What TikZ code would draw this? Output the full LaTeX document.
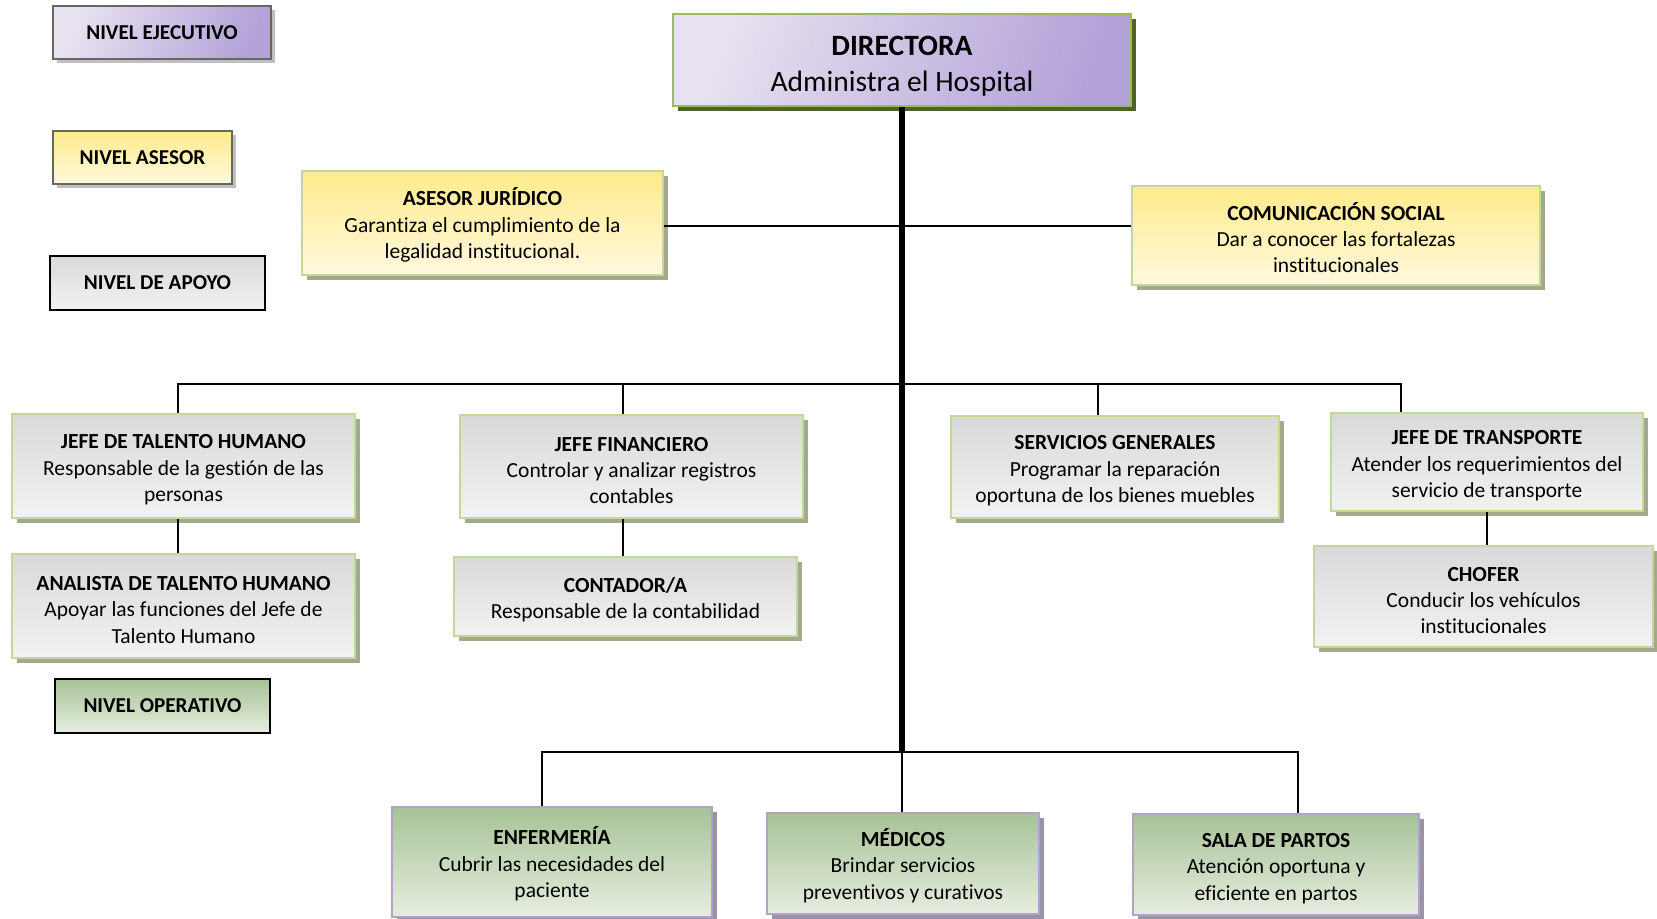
\documentclass[tikz,border=0pt]{standalone}
\usepackage{fontspec}
\setmainfont{Carlito}[Ligatures=NoCommon]
\usetikzlibrary{shadows}

\definecolor{lavLight}{HTML}{E8E2F0}
\definecolor{lavDark}{HTML}{B3A2D8}
\definecolor{yelTop}{HTML}{FFEB8C}
\definecolor{yelBot}{HTML}{FFF8DE}
\definecolor{grayTop}{HTML}{D9D9D9}
\definecolor{grayBot}{HTML}{F2F2F2}
\definecolor{grnTop}{HTML}{A7C296}
\definecolor{grnBot}{HTML}{E6EDE0}
\definecolor{edgeGreen}{HTML}{C3D69B}
\definecolor{edgeDark}{HTML}{9BBB59}
\definecolor{edgePurple}{HTML}{B3A2C7}
\definecolor{shOlive}{HTML}{A4A98E}
\definecolor{shDark}{HTML}{4F6228}
\definecolor{shPurple}{HTML}{9A92AA}
\definecolor{shGray}{HTML}{BFBFBF}

\newcommand{\tit}[1]{\rule{0pt}{11pt}\textbf{#1}}

\tikzset{
	unit/.style={draw=edgeGreen, line width=1pt, inner sep=0pt, align=center,
		font=\fontsize{10.75}{13.2}\selectfont},
	olive shadow/.style={drop shadow={shadow xshift=2.5pt, shadow yshift=-2.5pt, fill=shOlive, opacity=1}},
	ejecutivo/.style={unit, draw=edgeDark, left color=lavLight, right color=lavDark, shading angle=70,
		drop shadow={shadow xshift=2.5pt, shadow yshift=-2.5pt, fill=shDark, opacity=1}},
	asesor/.style={unit, olive shadow, top color=yelTop, bottom color=yelBot},
	apoyo/.style={unit, olive shadow, top color=grayTop, bottom color=grayBot},
	operativo/.style={unit, draw=edgePurple, top color=grnTop, bottom color=grnBot,
		drop shadow={shadow xshift=2.5pt, shadow yshift=-2.5pt, fill=shPurple, opacity=1}},
	nivel/.style={line width=1.2pt, inner sep=0pt, font=\fontsize{10.6}{13}\selectfont\bfseries},
	wire/.style={line width=0.75pt},
	trunk/.style={line width=2.6pt}
}

\begin{document}
\begin{tikzpicture}[x=0.5pt, y=-0.5pt]
	\useasboundingbox (0,0) rectangle (1657,918);
	% Legend:
	\node[nivel, draw=black!60, left color=lavLight, right color=lavDark, shading angle=70,
		drop shadow={shadow xshift=2pt, shadow yshift=-2pt, fill=shGray, opacity=1},
		minimum width=109pt, minimum height=26.5pt] (nvEjec) at (162,32.5) {NIVEL EJECUTIVO};
	\node[nivel, draw=black!60, top color=yelTop, bottom color=yelBot,
		drop shadow={shadow xshift=2pt, shadow yshift=-2pt, fill=shGray, opacity=1},
		minimum width=89.5pt, minimum height=26.5pt] (nvAsesor) at (142.5,157.5) {NIVEL ASESOR};
	\node[nivel, draw=black, top color=grayTop, bottom color=grayBot,
		minimum width=107.5pt, minimum height=27pt] (nvApoyo) at (157.5,283) {NIVEL DE APOYO};
	\node[nivel, draw=black, top color=grnTop, bottom color=grnBot,
		minimum width=107.5pt, minimum height=27pt] (nvOper) at (162.5,706) {NIVEL OPERATIVO};

	% Units:
	\node[ejecutivo, minimum width=229pt, minimum height=46pt, font=\fontsize{14.75}{18}\selectfont]
		(directora) at (902,60) {\rule{0pt}{16pt}\textbf{DIRECTORA}\\Administra el Hospital};
	\node[asesor, minimum width=180.5pt, minimum height=52pt] (juridico) at (482.5,223)
		{\tit{ASESOR JURÍDICO}\\Garantiza el cumplimiento de la\\legalidad institucional.};
	\node[asesor, minimum width=204pt, minimum height=49.5pt] (comunicacion) at (1336,235.5)
		{\tit{COMUNICACIÓN SOCIAL}\\Dar a conocer las fortalezas\\institucionales};
	\node[apoyo, minimum width=171.5pt, minimum height=52pt] (talento) at (183.5,466)
		{\tit{JEFE DE TALENTO HUMANO}\\Responsable de la gestión de las\\personas};
	\node[apoyo, minimum width=171.5pt, minimum height=52pt] (analista) at (183.5,606)
		{\tit{ANALISTA DE TALENTO HUMANO}\\Apoyar las funciones del Jefe de\\Talento Humano};
	\node[apoyo, minimum width=171.5pt, minimum height=51.5pt] (financiero) at (631.5,466.5)
		{\tit{JEFE FINANCIERO}\\Controlar y analizar registros\\contables};
	\node[apoyo, minimum width=171.5pt, minimum height=39.5pt] (contador) at (625.5,596.5)
		{\tit{CONTADOR/A}\\Responsable de la contabilidad};
	\node[apoyo, minimum width=164pt, minimum height=51pt] (servicios) at (1115,467)
		{\tit{SERVICIOS GENERALES}\\Programar la reparación\\oportuna de los bienes muebles};
	\node[apoyo, minimum width=156pt, minimum height=49pt] (transporte) at (1487,462)
		{\tit{JEFE DE TRANSPORTE}\\Atender los requerimientos del\\servicio de transporte};
	\node[apoyo, minimum width=169.5pt, minimum height=50.5pt] (chofer) at (1483.5,596.5)
		{\tit{CHOFER}\\Conducir los vehículos\\institucionales};
	\node[operativo, minimum width=160pt, minimum height=55pt] (enfermeria) at (552,862)
		{\tit{ENFERMERÍA}\\Cubrir las necesidades del\\paciente};
	\node[operativo, minimum width=136pt, minimum height=50.5pt] (medicos) at (903,863.5)
		{\tit{MÉDICOS}\\Brindar servicios\\preventivos y curativos};
	\node[operativo, minimum width=143pt, minimum height=50.5pt] (partos) at (1276,864.5)
		{\tit{SALA DE PARTOS}\\Atención oportuna y\\eficiente en partos};

	% Wires:
	\coordinate (hAsesor) at (902,226);
	\coordinate (busApoyo) at (902,384);
	\coordinate (apoyoStart) at (178,384);
	\coordinate (apoyoEnd) at (1401,384);
	\coordinate (dropFin) at (623,384);
	\coordinate (dropServ) at (1098,384);
	\coordinate (busOper) at (902,752);
	\coordinate (operStart) at (542,752);
	\coordinate (operEnd) at (1298,752);
	\draw[trunk] (directora.south) -- (busOper);
	\draw[wire] (juridico.east |- hAsesor) -- (hAsesor) -- (comunicacion.west |- hAsesor);
	\draw[wire] (apoyoStart |- talento.north) -- (apoyoStart) -- (apoyoEnd) -- (apoyoEnd |- transporte.north);
	\draw[wire] (dropFin) -- (dropFin |- financiero.north);
	\draw[wire] (dropServ) -- (dropServ |- servicios.north);
	\draw[wire] (apoyoStart |- talento.south) -- (apoyoStart |- analista.north);
	\draw[wire] (dropFin |- financiero.south) -- (dropFin |- contador.north);
	\draw[wire] (transporte.south) -- (transporte.south |- chofer.north);
	\draw[wire] (operStart |- enfermeria.north) -- (operStart) -- (operEnd) -- (operEnd |- partos.north);
	\draw[wire] (busOper) -- (busOper |- medicos.north);
\end{tikzpicture}
\end{document}
